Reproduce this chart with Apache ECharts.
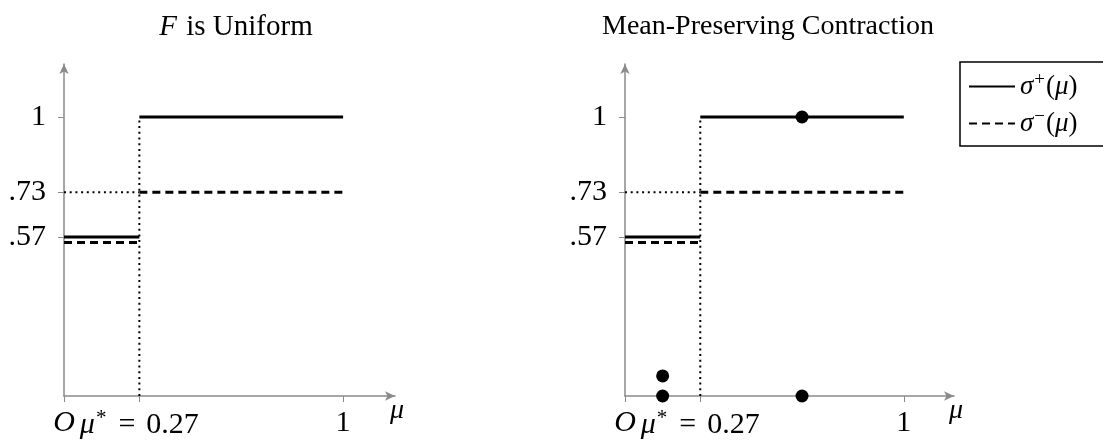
<!DOCTYPE html>
<html>
<head>
<meta charset="utf-8">
<script src="https://cdn.jsdelivr.net/npm/echarts@6/dist/echarts.min.js"></script>
<style>html,body{margin:0;padding:0;background:#fff}#c{width:1103px;height:442px}</style>
</head>
<body>
<div id="c"></div>
<script>
// ---- data ----
const muStar = 0.27;
const xTickValues = [0, 0.27, 1];
const yTickValues = [0.57, 0.73, 1];
const yTickLabels = ['.57', '.73', '1'];
const sigmaPlusLow = [[0, 0.57], [0.27, 0.57]];
const sigmaPlusHigh = [[0.27, 1], [1, 1]];
const sigmaMinusLow = [[0, 0.55], [0.27, 0.55]];
const sigmaMinusHigh = [[0.27, 0.73], [1, 0.73]];
const guideVertical = [[0.27, 0], [0.27, 1]];
const guideHorizontal = [[0, 0.73], [0.27, 0.73]];
const contractionDots = [[0.135, 0], [0.135, 0.072], [0.635, 0], [0.635, 1]];
const titles = ['{i|F}{n| is Uniform}', 'Mean-Preserving Contraction'];
const legendNames = ['sigmaPlus', 'sigmaMinus'];

const FONT = 'Liberation Serif';
const AX = '#8a8a8a';
const FS = 30;
const richTxt = {
  n: {fontFamily: FONT, fontSize: FS, color: '#000'},
  i: {fontFamily: FONT, fontSize: FS, fontStyle: 'italic', color: '#000'},
  eq: {fontFamily: FONT, fontSize: FS, color: '#000', padding: [0, 11, 0, 10]},
  sup: {fontFamily: FONT, fontSize: 21, color: '#000', verticalAlign: 'bottom', padding: [0, 2, 13, 1]}
};
const richTitle = {
  n: {fontFamily: FONT, fontSize: 29, color: '#000', padding: [0, 0, 0, 2]},
  i: {fontFamily: FONT, fontSize: 29, fontStyle: 'italic', color: '#000'}
};

function xLabel(v) {
  if (v === 0) return '{i|O}';
  if (Math.abs(v - muStar) < 1e-9) return '{i|μ}{sup|*}{eq|=}{n|0.27}';
  return '{n|1}';
}
function yLabel(v) {
  const k = yTickValues.findIndex(t => Math.abs(t - v) < 1e-9);
  return '{n|' + yTickLabels[k] + '}';
}

const grids = [
  {left: 64, top: 64, width: 331, height: 332},
  {left: 625, top: 64, width: 329, height: 332}
];

function xAxis(i) {
  return {
    type: 'value', gridIndex: i, min: 0, max: i === 0 ? 1.186 : 1.18,
    splitLine: {show: false},
    axisLine: {lineStyle: {color: AX, width: 1.5}, symbol: ['none', 'arrow'], symbolSize: [7, 10]},
    axisTick: {customValues: xTickValues, length: 6, lineStyle: {color: AX, width: 1}},
    axisLabel: {customValues: xTickValues, formatter: xLabel, rich: richTxt, margin: 12, showMinLabel: true, showMaxLabel: true},
    name: '{i|μ}', nameLocation: 'end', nameGap: -5,
    nameTextStyle: {rich: {i: {fontFamily: FONT, fontSize: 28, fontStyle: 'italic', color: '#000'}}, verticalAlign: 'top', align: 'left', padding: [1, 0, 0, 0]}
  };
}
function yAxis(i) {
  return {
    type: 'value', gridIndex: i, min: 0, max: 1.19,
    splitLine: {show: false},
    axisLine: {lineStyle: {color: AX, width: 1.5}, symbol: ['none', 'arrow'], symbolSize: [7, 10]},
    axisTick: {customValues: yTickValues, length: 6, lineStyle: {color: AX, width: 1}},
    axisLabel: {customValues: yTickValues, formatter: yLabel, rich: richTxt, margin: 18}
  };
}

const DOT = {color: '#000', width: 2, type: [2, 3.7], cap: 'butt'};
function panelSeries(i) {
  const base = {type: 'line', xAxisIndex: i, yAxisIndex: i, symbol: 'none', silent: true, animation: false};
  return [
    Object.assign({}, base, {data: guideVertical, lineStyle: DOT, z: 1}),
    Object.assign({}, base, {data: guideHorizontal, lineStyle: DOT, z: 1}),
    Object.assign({}, base, {name: legendNames[0], data: sigmaPlusLow, lineStyle: {color: '#000', width: 3}, z: 3}),
    Object.assign({}, base, {name: legendNames[0], data: sigmaPlusHigh, lineStyle: {color: '#000', width: 3}, z: 3}),
    Object.assign({}, base, {name: legendNames[1], data: sigmaMinusLow, lineStyle: {color: '#000', width: 3, type: [8, 5]}, z: 3}),
    Object.assign({}, base, {name: legendNames[1], data: sigmaMinusHigh, lineStyle: {color: '#000', width: 3, type: [8, 5]}, z: 3})
  ];
}

const series = panelSeries(0).concat(panelSeries(1));
series.push({
  type: 'scatter', xAxisIndex: 1, yAxisIndex: 1, data: contractionDots,
  symbol: 'circle', symbolSize: 13, itemStyle: {color: '#000', opacity: 1}, z: 5, silent: true, animation: false
});

const chart = echarts.init(document.getElementById('c'), null, {renderer: 'canvas'});
chart.setOption({
  backgroundColor: '#fff',
  animation: false,
  title: [
    {text: titles[0], left: 231, top: 8, textAlign: 'center',
     textStyle: {fontFamily: FONT, fontSize: 29, fontWeight: 'normal', color: '#000', rich: richTitle}},
    {text: titles[1], left: 763, top: 8, textAlign: 'center',
     textStyle: {fontFamily: FONT, fontSize: 28, fontWeight: 'normal', color: '#000'}}
  ],
  grid: grids,
  xAxis: [xAxis(0), xAxis(1)],
  yAxis: [yAxis(0), yAxis(1)],
  legend: {
    data: legendNames, orient: 'vertical', left: 960, top: 62,
    itemWidth: 46, itemHeight: 3, itemGap: 8,
    padding: [9, 40, 9, 8],
    borderColor: '#000', borderWidth: 1.5, borderRadius: 0,
    selectedMode: false,
    itemStyle: {opacity: 0},
    formatter: function (n) {
      return n === legendNames[0] ? '{i|σ}{sup|+}{n|(}{i|μ}{n|)}' : '{i|σ}{sup|−}{n|(}{i|μ}{n|)}';
    },
    textStyle: {
      rich: {
        n: {fontFamily: FONT, fontSize: 27, color: '#000'},
        i: {fontFamily: FONT, fontSize: 27, fontStyle: 'italic', color: '#000'},
        sup: {fontFamily: FONT, fontSize: 19, color: '#000', verticalAlign: 'bottom', padding: [0, 1, 12, 1]}
      }
    }
  },
  series: series
});
</script>
</body>
</html>
